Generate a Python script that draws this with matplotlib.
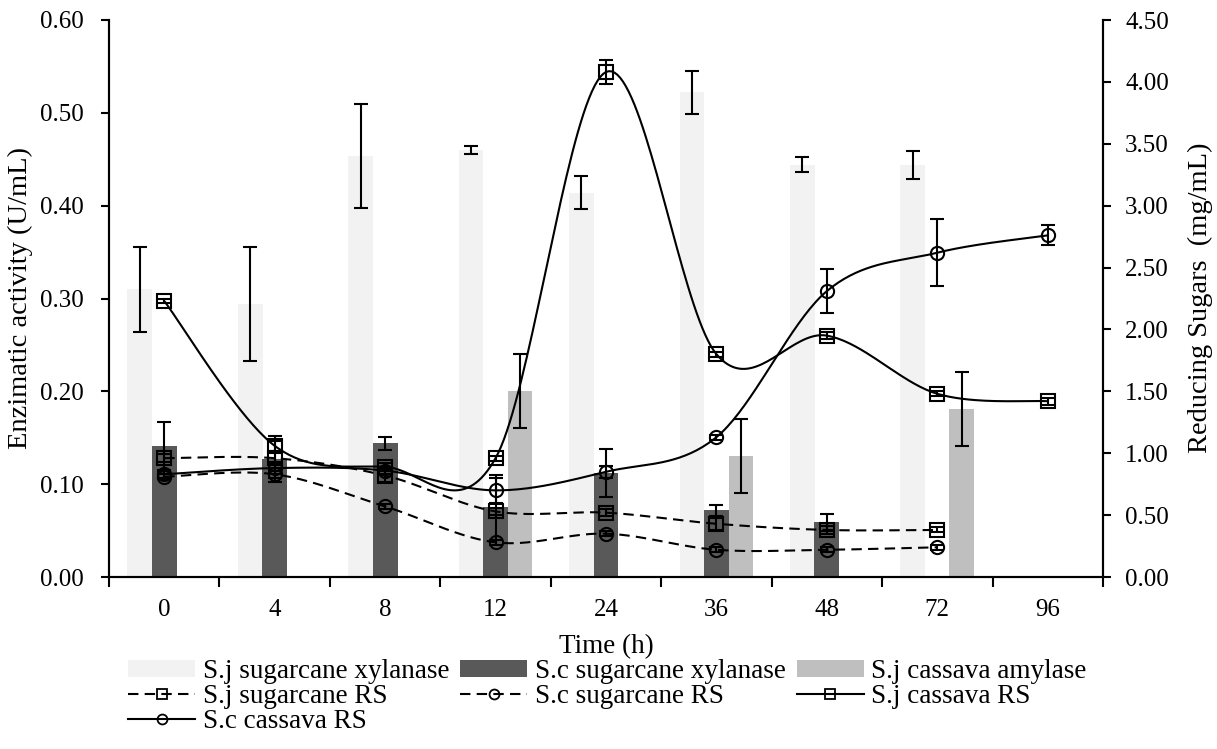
import numpy as np
import matplotlib
matplotlib.use("Agg")
import matplotlib.pyplot as plt
from matplotlib.lines import Line2D
from matplotlib.patches import Patch

plt.rcParams['font.family'] = ['Liberation Serif', 'DejaVu Serif']

# ---------------- data ----------------
time_labels = ["0", "4", "8", "12", "24", "36", "48", "72", "96"]

# enzymatic activity (U/mL), left axis
sj_sugarcane_xylanase = [0.310, 0.294, 0.454, 0.460, 0.414, 0.522, 0.444, 0.444, 0.0]
sj_sugarcane_xylanase_err = [0.046, 0.061, 0.056, 0.004, 0.018, 0.023, 0.008, 0.015, 0.0]
sc_sugarcane_xylanase = [0.141, 0.127, 0.144, 0.075, 0.112, 0.072, 0.059, 0.0, 0.0]
sc_sugarcane_xylanase_err = [0.026, 0.025, 0.007, 0.035, 0.026, 0.006, 0.009, 0.0, 0.0]
sj_cassava_amylase = [0.0, 0.0, 0.0, 0.200, 0.0, 0.130, 0.0, 0.181, 0.0]
sj_cassava_amylase_err = [0.0, 0.0, 0.0, 0.040, 0.0, 0.040, 0.0, 0.040, 0.0]

# reducing sugars (mg/mL), right axis
sj_sugarcane_rs = [0.96, 0.96, 0.82, 0.53, 0.52, 0.43, 0.38, 0.38]
sj_sugarcane_rs_err = [0.03, 0.05, 0.05, 0.03, 0.03, 0.05, 0.03, 0.02]
sc_sugarcane_rs = [0.81, 0.83, 0.57, 0.28, 0.35, 0.22, 0.22, 0.24]
sc_sugarcane_rs_err = [0.02, 0.03, 0.02, 0.02, 0.02, 0.02, 0.02, 0.02]
sj_cassava_rs = [2.23, 1.06, 0.89, 0.96, 4.08, 1.80, 1.95, 1.48, 1.42]
sj_cassava_rs_err = [0.02, 0.04, 0.03, 0.02, 0.10, 0.02, 0.03, 0.02, 0.03]
sc_cassava_rs = [0.83, 0.88, 0.86, 0.70, 0.85, 1.13, 2.31, 2.62, 2.76]
sc_cassava_rs_err = [0.03, 0.05, 0.03, 0.10, 0.05, 0.02, 0.18, 0.27, 0.08]

LIGHT, DARK, MID = "#F2F2F2", "#595959", "#BFBFBF"
FS = 18
FS_TITLE = 20.5
FS_LEG = 19.5


def smooth(xs, ys, n=40):
    """Catmull-Rom style smoothing (as in spreadsheet 'smoothed line')."""
    P = np.column_stack([xs, ys]).astype(float)
    m = len(P)
    out = [P[0]]
    t = np.linspace(0, 1, n)[1:, None]
    for i in range(m - 1):
        p0 = P[max(i - 1, 0)]
        p1, p2 = P[i], P[i + 1]
        p3 = P[min(i + 2, m - 1)]
        b1 = p1 + (p2 - p0) / 6.0
        b2 = p2 - (p3 - p1) / 6.0
        seg = ((1 - t) ** 3) * p1 + 3 * ((1 - t) ** 2) * t * b1 + 3 * (1 - t) * t ** 2 * b2 + t ** 3 * p2
        out.extend(seg)
    out = np.array(out)
    return out[:, 0], out[:, 1]


W, H = 1217, 749
fig = plt.figure(figsize=(W / 100, H / 100), dpi=100)
ax = fig.add_axes([109 / W, 1 - 577 / H, (1103 - 109) / W, (577 - 20) / H])
ax2 = ax.twinx()

x = np.arange(len(time_labels))
bw, off = 0.225, 0.222
err_kw = dict(ecolor="black", elinewidth=1.5, capsize=5, capthick=1.5)


def bars(xpos, vals, errs, color):
    vals = np.array(vals)
    errs = np.array(errs)
    keep = vals > 0
    ax.bar(xpos[keep], vals[keep], width=bw, color=color, linewidth=0, zorder=2)
    ax.errorbar(xpos[keep], vals[keep], yerr=errs[keep], fmt="none", zorder=3, **err_kw)


bars(x - off, sj_sugarcane_xylanase, sj_sugarcane_xylanase_err, LIGHT)
bars(x, sc_sugarcane_xylanase, sc_sugarcane_xylanase_err, DARK)
bars(x + off, sj_cassava_amylase, sj_cassava_amylase_err, MID)

ax.set_xlim(-0.5, len(time_labels) - 0.5)
ax.set_ylim(0, 0.6)
ax.set_yticks(np.arange(0, 0.61, 0.1))
ax.set_yticklabels([f"{v:.2f}" for v in np.arange(0, 0.61, 0.1)])
ax.set_xticks(np.arange(-0.5, len(time_labels), 1.0))
ax.set_xticklabels([])
ax.set_xticks(x, minor=True)
ax.set_xticklabels(time_labels, minor=True)
ax.tick_params(axis="x", which="minor", length=0, labelsize=FS, pad=16)
ax.tick_params(axis="x", which="major", length=7, width=1.5, direction="out")
ax.tick_params(axis="y", length=6, width=1.5, direction="out", labelsize=FS, pad=12.5)

ax2.set_ylim(0, 4.5)
ax2.set_yticks(np.arange(0, 4.51, 0.5))
ax2.set_yticklabels([f"{v:.2f}" for v in np.arange(0, 4.51, 0.5)])
ax2.tick_params(axis="y", length=6, width=1.5, direction="out", labelsize=FS, pad=10)

for a in (ax, ax2):
    a.spines["top"].set_visible(False)
    for s in ("left", "right", "bottom"):
        a.spines[s].set_linewidth(1.5)

DASH = (0, (5, 3))
lw = 1.5
ms = 9.5


def rs_line(vals, errs, marker, ls):
    xi = x[:len(vals)]
    sx, sy = smooth(xi, vals)
    ax2.plot(sx, sy, color="black", lw=lw, linestyle=ls, zorder=4)
    ax2.errorbar(xi, vals, yerr=errs, fmt="none", zorder=5, **err_kw)
    ax2.plot(xi, vals, linestyle="none", marker=marker, markersize=ms,
             markerfacecolor="none", markeredgecolor="black", markeredgewidth=1.5, zorder=6)


rs_line(sj_sugarcane_rs, sj_sugarcane_rs_err, "s", DASH)
rs_line(sc_sugarcane_rs, sc_sugarcane_rs_err, "o", DASH)
rs_line(sj_cassava_rs, sj_cassava_rs_err, "s", "-")
rs_line(sc_cassava_rs, sc_cassava_rs_err, "o", "-")

ax.set_zorder(1)
ax2.set_zorder(2)
ax2.patch.set_visible(False)

# labels
fig.text(606 / W, 1 - 647 / H, "Time (h)", ha="center", va="center", fontsize=FS_LEG)
fig.text(20 / W, 1 - 298 / H, "Enzimatic activity (U/mL)", ha="center", va="center",
         rotation=90, fontsize=FS_TITLE)
fig.text(1200 / W, 1 - 298 / H, "Reducing Sugars  (mg/mL)", ha="center", va="center",
         rotation=90, fontsize=FS_TITLE)

# legend (row-major order arranged into matplotlib's column-major fill)
def lh(marker, ls):
    return Line2D([], [], color="black", lw=lw, linestyle=ls, marker=marker, markersize=ms * 0.75,
                  markerfacecolor="none", markeredgecolor="black", markeredgewidth=1.3)

handles = [
    Patch(facecolor=LIGHT, edgecolor="none"), lh("s", DASH), lh("o", "-"),
    Patch(facecolor=DARK, edgecolor="none"), lh("o", DASH),
    Patch(facecolor=MID, edgecolor="none"), lh("s", "-"),
]
labels = [
    "S.j sugarcane xylanase", "S.j sugarcane RS", "S.c cassava RS",
    "S.c sugarcane xylanase", "S.c sugarcane RS",
    "S.j cassava amylase", "S.j cassava RS",
]
leg = fig.legend(handles, labels, ncol=3, loc="upper left",
                 bbox_to_anchor=(128 / W, 1 - 659 / H), frameon=False, fontsize=FS_LEG,
                 handlelength=2.48, handleheight=0.55, handletextpad=0.28, columnspacing=0.4,
                 labelspacing=0.0, borderpad=0, borderaxespad=0)

fig.savefig("out.png", dpi=100)
